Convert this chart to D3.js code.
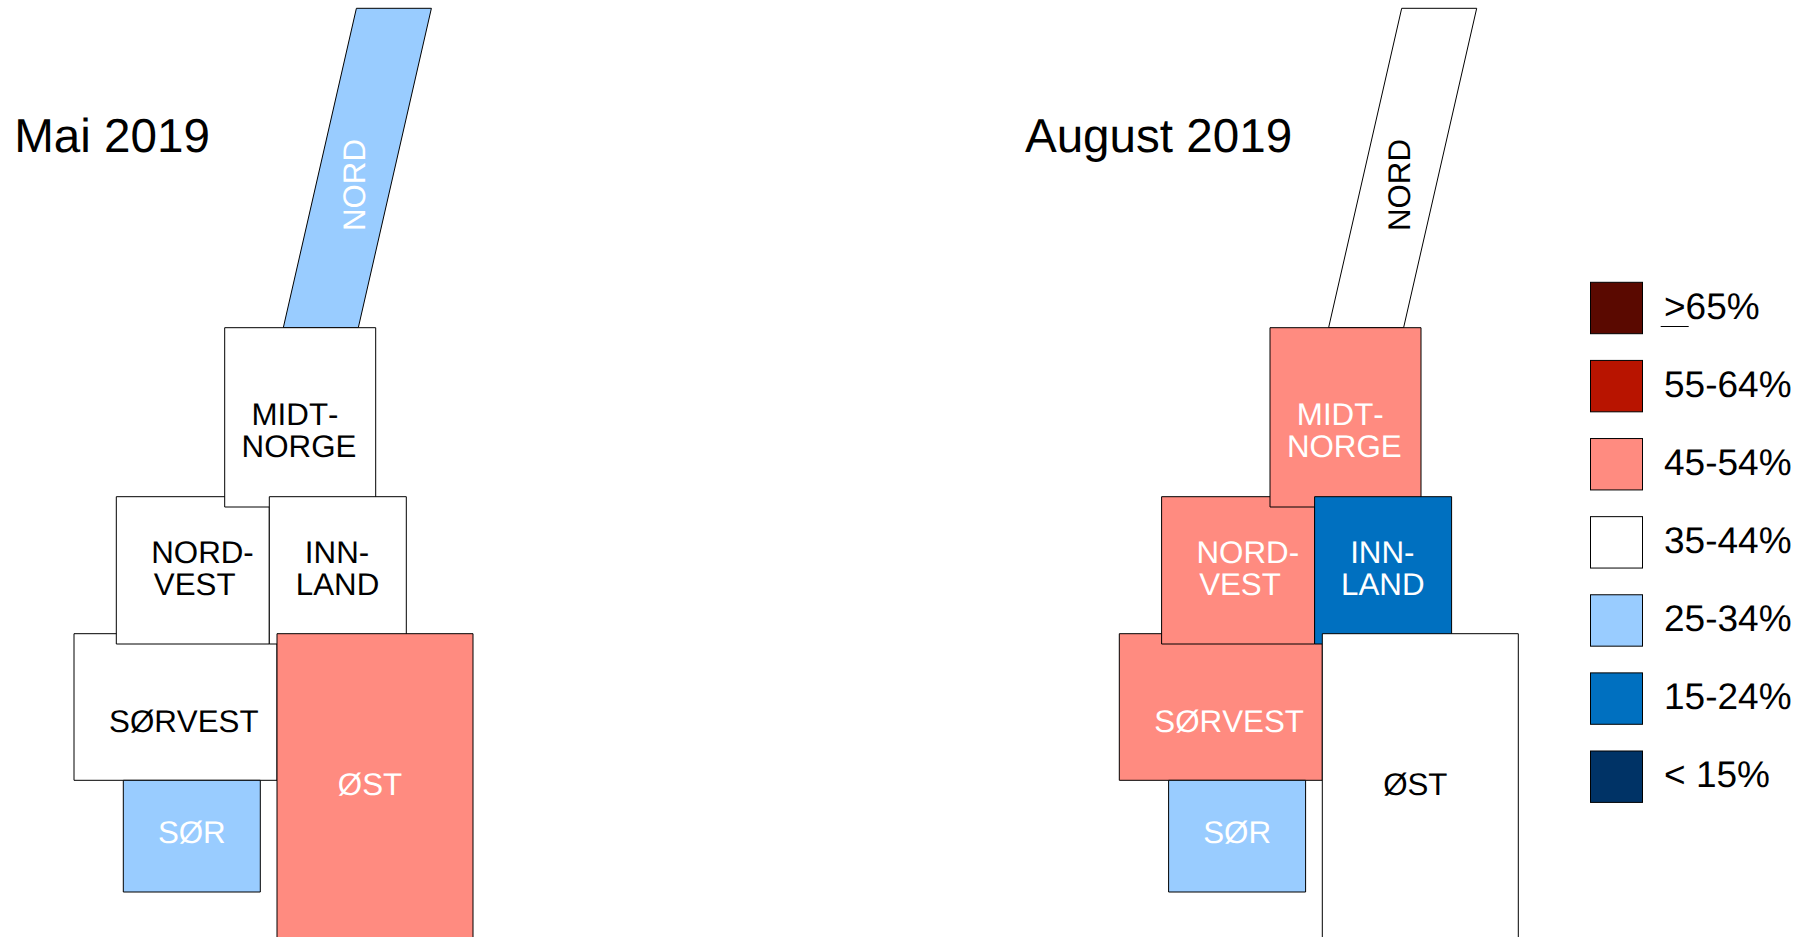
<!DOCTYPE html>
<html>
<head>
<meta charset="utf-8">
<title>Mai og august 2019</title>
<script src="https://cdnjs.cloudflare.com/ajax/libs/d3/7.8.5/d3.min.js"></script>
<style>
    html, body { margin: 0; background: #fff; overflow: hidden; }
    svg { display: block; }
    text { font-family: "Liberation Sans", Arial, sans-serif; font-kerning: none; text-rendering: geometricPrecision; }
</style>
</head>
<body>
<svg class="chart"></svg>
<script>
// values
const bands = [">65%", "55-64%", "45-54%", "35-44%", "25-34%", "15-24%", "< 15%"]
const regions = ["NORD", "SØRVEST", "NORD-VEST", "MIDT-NORGE", "INN-LAND", "SØR", "ØST"]
const panelTitles = ["Mai 2019", "August 2019"]
const mayBands = ["25-34%", "35-44%", "35-44%", "35-44%", "35-44%", "25-34%", "45-54%"]
const augustBands = ["35-44%", "45-54%", "45-54%", "45-54%", "15-24%", "25-34%", "35-44%"]

const bandColors = ["#5a0900", "#b81400", "#ff8b80", "#ffffff", "#99ccff", "#0070c0", "#003366"]

// tile map drawn in map units (1 unit = 10px), same order as regions
const tiles = [
    {x0: 28.33, x1: 35.83, y0: 0.83, y1: 32.77, lean: 7.31},
    {x0: 7.4, x1: 27.7, y0: 63.37, y1: 78.03, lean: 0},
    {x0: 11.63, x1: 26.93, y0: 49.67, y1: 64.4, lean: 0},
    {x0: 22.47, x1: 37.57, y0: 32.77, y1: 50.7, lean: 0},
    {x0: 26.93, x1: 40.63, y0: 49.67, y1: 64.4, lean: 0},
    {x0: 12.33, x1: 26.03, y0: 78.03, y1: 89.2, lean: 0},
    {x0: 27.7, x1: 47.3, y0: 63.37, y1: 96, lean: 0}
]
const tileLabels = [
    [{t: "NORD", x: 36.45, y: 18.5, rotate: true}],
    [{t: "SØRVEST", x: 18.38, y: 73.17}],
    [{t: "NORD-", x: 20.25, y: 56.27}, {t: "VEST", x: 19.47, y: 59.5}],
    [{t: "MIDT-", x: 29.5, y: 42.5}, {t: "NORGE", x: 29.9, y: 45.7}],
    [{t: "INN-", x: 33.7, y: 56.27}, {t: "LAND", x: 33.75, y: 59.5}],
    [{t: "SØR", x: 19.18, y: 84.27}],
    [{t: "ØST", x: 37, y: 79.5}]
]
const titleX = [14.2, -20.4]

var width = 1807, height = 937

var svg = d3.select(".chart")
    .attr("width", width)
    .attr("height", height)

const colorScale = d3.scaleOrdinal().domain(bands).range(bandColors)

var yScale = d3.scaleLinear()
    .domain([0, 100])
    .range([0, 1000])

function drawPanel(title, values, offset, titleLeft) {
    var xScale = d3.scaleLinear()
        .domain([0, 100])
        .range([offset, offset + 1000])

    const outline = d3.line()
        .x(d => xScale(d[0]))
        .y(d => yScale(d[1]))
        .curve(d3.curveLinearClosed)

    var panel = svg.append("g").attr("class", "panel")

    panel.append("text")
        .attr("x", offset + titleLeft)
        .attr("y", yScale(15.2))
        .attr("font-size", 47.6)
        .attr("fill", "#000")
        .text(title)

    regions.forEach((region, i) => {
        const tile = tiles[i]

        panel.append("path")
            .attr("class", "tile")
            .attr("d", outline([
                [tile.x0 + tile.lean, tile.y0],
                [tile.x1 + tile.lean, tile.y0],
                [tile.x1, tile.y1],
                [tile.x0, tile.y1]
            ]))
            .attr("fill", colorScale(values[i]))
            .attr("stroke", "#000")
            .attr("stroke-width", 1)
    })

    regions.forEach((region, i) => {
        const textColor = values[i] == "35-44%" ? "#000" : "#fff"

        tileLabels[i].forEach(line => {
            var label = panel.append("text")
                .attr("font-size", 31.3)
                .attr("fill", textColor)
                .attr("text-anchor", "middle")
                .text(line.t)

            if (line.rotate) {
                label.attr("transform", `translate(${xScale(line.x)},${yScale(line.y)}) rotate(-90)`)
            } else {
                label.attr("x", xScale(line.x)).attr("y", yScale(line.y))
            }
        })
    })
}

function createLegend() {
    var yLegend = d3.scalePoint()
        .domain(bands)
        .range([308, 776.7])

    var legend = svg.append("g").attr("class", "legend")

    bands.forEach(band => {
        legend.append("rect")
            .attr("x", 1590.5)
            .attr("y", yLegend(band) - 25.7)
            .attr("width", 52)
            .attr("height", 51.4)
            .attr("fill", colorScale(band))
            .attr("stroke", "#000")
            .attr("stroke-width", 1)

        legend.append("text")
            .attr("x", 1664)
            .attr("y", yLegend(band) + 10.6)
            .attr("font-size", 37)
            .attr("fill", "#000")
            .text(band)
    })

    // the ">" is underlined by hand in the original
    legend.append("line")
        .attr("x1", 1660.7)
        .attr("x2", 1688.7)
        .attr("y1", 326.5)
        .attr("y2", 326.5)
        .attr("stroke", "#000")
        .attr("stroke-width", 1)
}

drawPanel(panelTitles[0], mayBands, 0, titleX[0])
drawPanel(panelTitles[1], augustBands, 1045.3, titleX[1])
createLegend()
</script>
</body>
</html>
